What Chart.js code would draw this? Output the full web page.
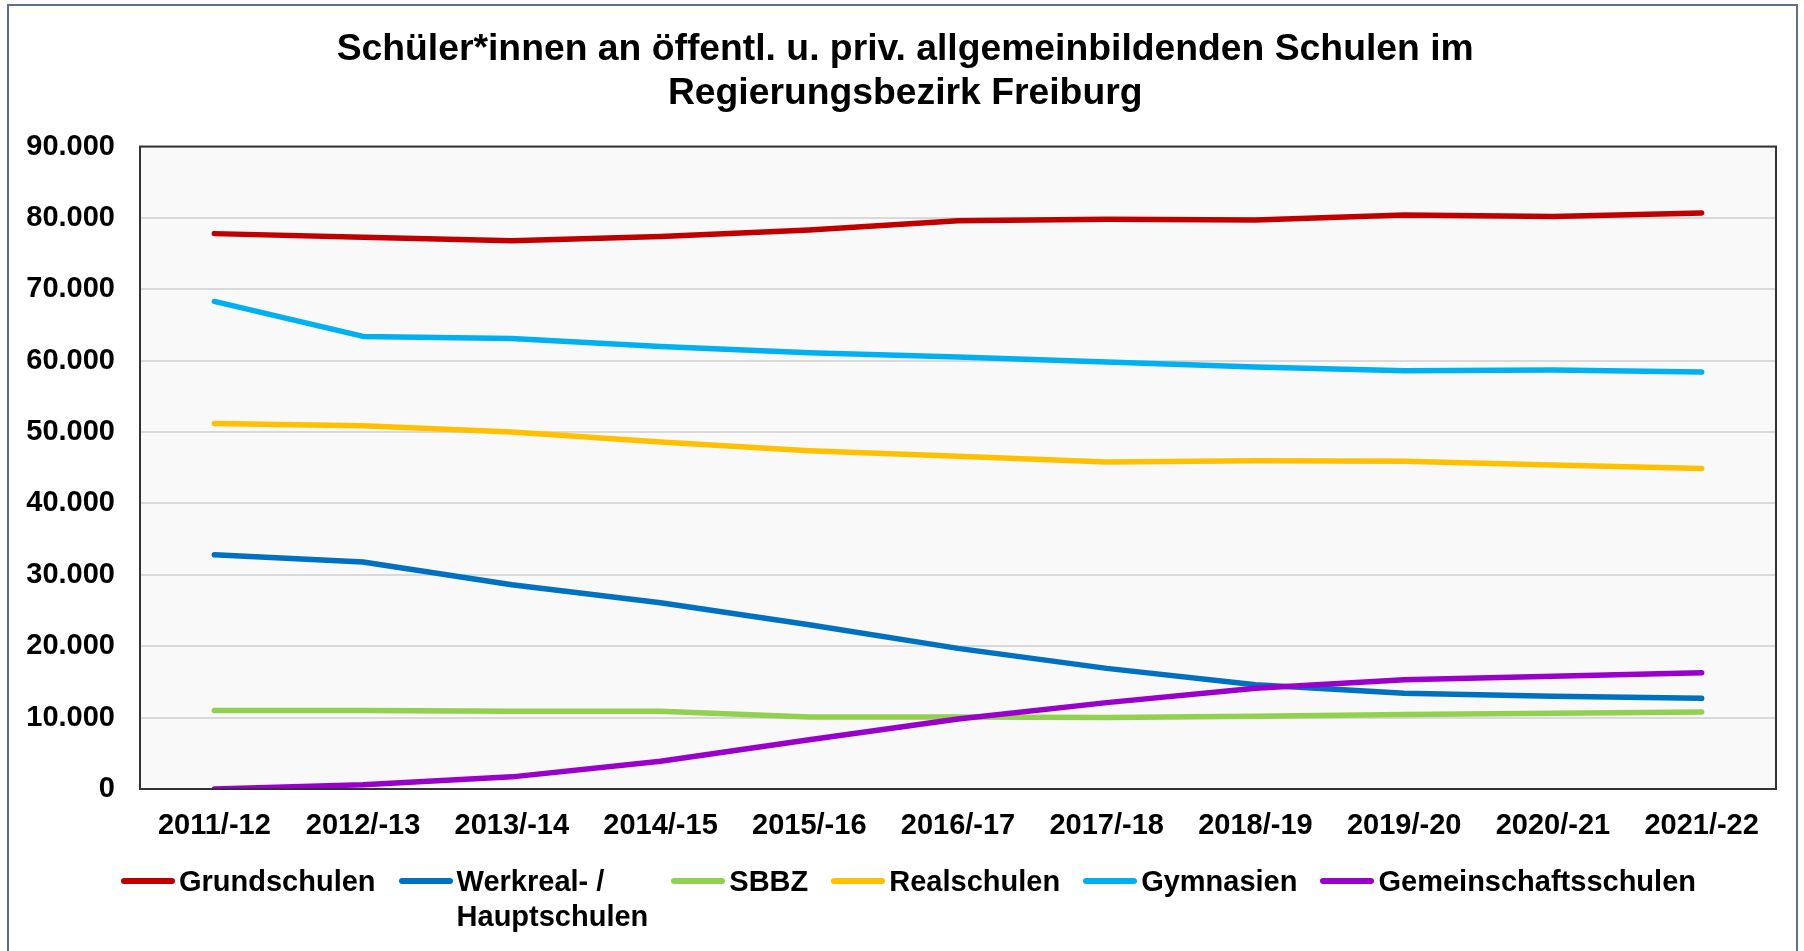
<!DOCTYPE html>
<html>
<head>
<meta charset="utf-8">
<script src="https://cdn.jsdelivr.net/npm/chart.js@4/dist/chart.umd.min.js"></script>
<style>
  body { margin: 0; background: #fff; font-family: "Liberation Sans", Arial, sans-serif; }
  #wrap { position: absolute; left: 0; top: 0; width: 1804px; height: 951px; overflow: hidden; }
  #frame { position: absolute; left: 7px; top: 4px; width: 1791px; height: 1000px; border: 2px solid #5f6f8a; box-sizing: border-box; }
  #chart { position: absolute; left: 0; top: 0; }
  #legend { position: absolute; left: 121px; top: 864px; display: flex; gap: 23px; }
  .legend-item { display: flex; align-items: flex-start; }
  .legend-line { width: 54px; height: 6px; border-radius: 3px; margin-top: 14px; margin-right: 4px; }
  .legend-text { font-weight: bold; font-size: 29px; line-height: 35px; color: #000; }
</style>
</head>
<body>
<div id="wrap">
  <div id="frame"></div>
  <canvas id="chart" width="1804" height="951"></canvas>
  <div id="legend"></div>
</div>
<script>
// school years
var years = ['2011/-12', '2012/-13', '2013/-14', '2014/-15', '2015/-16', '2016/-17',
  '2017/-18', '2018/-19', '2019/-20', '2020/-21', '2021/-22'];

// pupils per school type
var grundschulen = [77800, 77300, 76800, 77400, 78300, 79600, 79800, 79700, 80400, 80200, 80700];
var werkreal = [32800, 31800, 28600, 26100, 23000, 19700, 16900, 14600, 13400, 13000, 12700];
var sbbz = [11000, 11000, 10900, 10900, 10100, 10100, 10000, 10200, 10450, 10600, 10800];
var realschulen = [51200, 50900, 50000, 48600, 47400, 46600, 45800, 46000, 45900, 45400, 44900];
var gymnasien = [68300, 63400, 63100, 62000, 61100, 60500, 59800, 59100, 58600, 58700, 58400];
var gemeinschaft = [0, 600, 1700, 3900, 6900, 9800, 12100, 14100, 15300, 15800, 16300];

var yTicks = [0, 10000, 20000, 30000, 40000, 50000, 60000, 70000, 80000, 90000];

var fontFamily = '"Liberation Sans", Arial, sans-serif';

function series(label, data, color, order) {
  return {
    label: label,
    data: data,
    borderColor: color,
    backgroundColor: color,
    borderWidth: 5.5,
    borderCapStyle: 'round',
    borderJoinStyle: 'round',
    pointRadius: 0,
    tension: 0,
    fill: false,
    order: order
  };
}

// background + frame of the plot area
var plotBox = {
  id: 'plotBox',
  beforeDraw: function (chart) {
    var a = chart.chartArea;
    var ctx = chart.ctx;
    ctx.save();
    ctx.fillStyle = '#f9f9f9';
    ctx.fillRect(a.left, a.top, a.right - a.left, a.bottom - a.top);
    ctx.restore();
  },
  afterDraw: function (chart) {
    var a = chart.chartArea;
    var ctx = chart.ctx;
    ctx.save();
    ctx.strokeStyle = '#333';
    ctx.lineWidth = 2;
    ctx.strokeRect(a.left, a.top, a.right - a.left, a.bottom - a.top);
    ctx.restore();
  }
};

var schoolChart = new Chart(document.getElementById('chart'), {
  type: 'line',
  data: {
    labels: years,
    datasets: [
      series('Grundschulen', grundschulen, '#c00000', 6),
      series(['Werkreal- /', 'Hauptschulen'], werkreal, '#0070c0', 5),
      series('SBBZ', sbbz, '#92d050', 4),
      series('Realschulen', realschulen, '#ffc000', 3),
      series('Gymnasien', gymnasien, '#00b0f0', 2),
      series('Gemeinschaftsschulen', gemeinschaft, '#9900cc', 1)
    ]
  },
  options: {
    responsive: false,
    animation: false,
    layout: { padding: { left: 24, right: 28, top: 0, bottom: 112 } },
    plugins: {
      legend: { display: false },
      tooltip: { enabled: false },
      title: {
        display: true,
        // leading space nudges the centred title a few px right, like the original
        text: [' Schüler*innen an öffentl. u. priv. allgemeinbildenden Schulen im', ' Regierungsbezirk Freiburg'],
        color: '#000',
        font: { family: fontFamily, size: 37.3, weight: 'bold', lineHeight: 1.16 },
        padding: { top: 28.5, bottom: 31.5 }
      }
    },
    scales: {
      x: {
        offset: true,
        grid: { display: false },
        border: { display: false },
        afterFit: function (axis) { axis.height = 50; },
        ticks: {
          color: '#000',
          padding: 12,
          maxRotation: 0,
          font: { family: fontFamily, size: 29, weight: 'bold' }
        }
      },
      y: {
        min: 0,
        max: 90000,
        afterBuildTicks: function (axis) {
          axis.ticks = yTicks.map(function (v) { return { value: v }; });
        },
        afterFit: function (axis) { axis.width = 116; },
        grid: { color: '#d9d9d9', lineWidth: 2, drawTicks: false },
        border: { display: false },
        ticks: {
          color: '#000',
          padding: 25,
          font: { family: fontFamily, size: 29, weight: 'bold' },
          callback: function (v) { return v.toLocaleString('de-DE'); }
        }
      }
    }
  },
  plugins: [plotBox]
});

// html legend built from the datasets
var legendDiv = document.getElementById('legend');
schoolChart.data.datasets.forEach(function (ds) {
  var item = document.createElement('div');
  item.className = 'legend-item';
  var line = document.createElement('div');
  line.className = 'legend-line';
  line.style.background = ds.borderColor;
  var text = document.createElement('div');
  text.className = 'legend-text';
  text.innerHTML = [].concat(ds.label).join('<br>');
  item.appendChild(line);
  item.appendChild(text);
  legendDiv.appendChild(item);
});
</script>
</body>
</html>
